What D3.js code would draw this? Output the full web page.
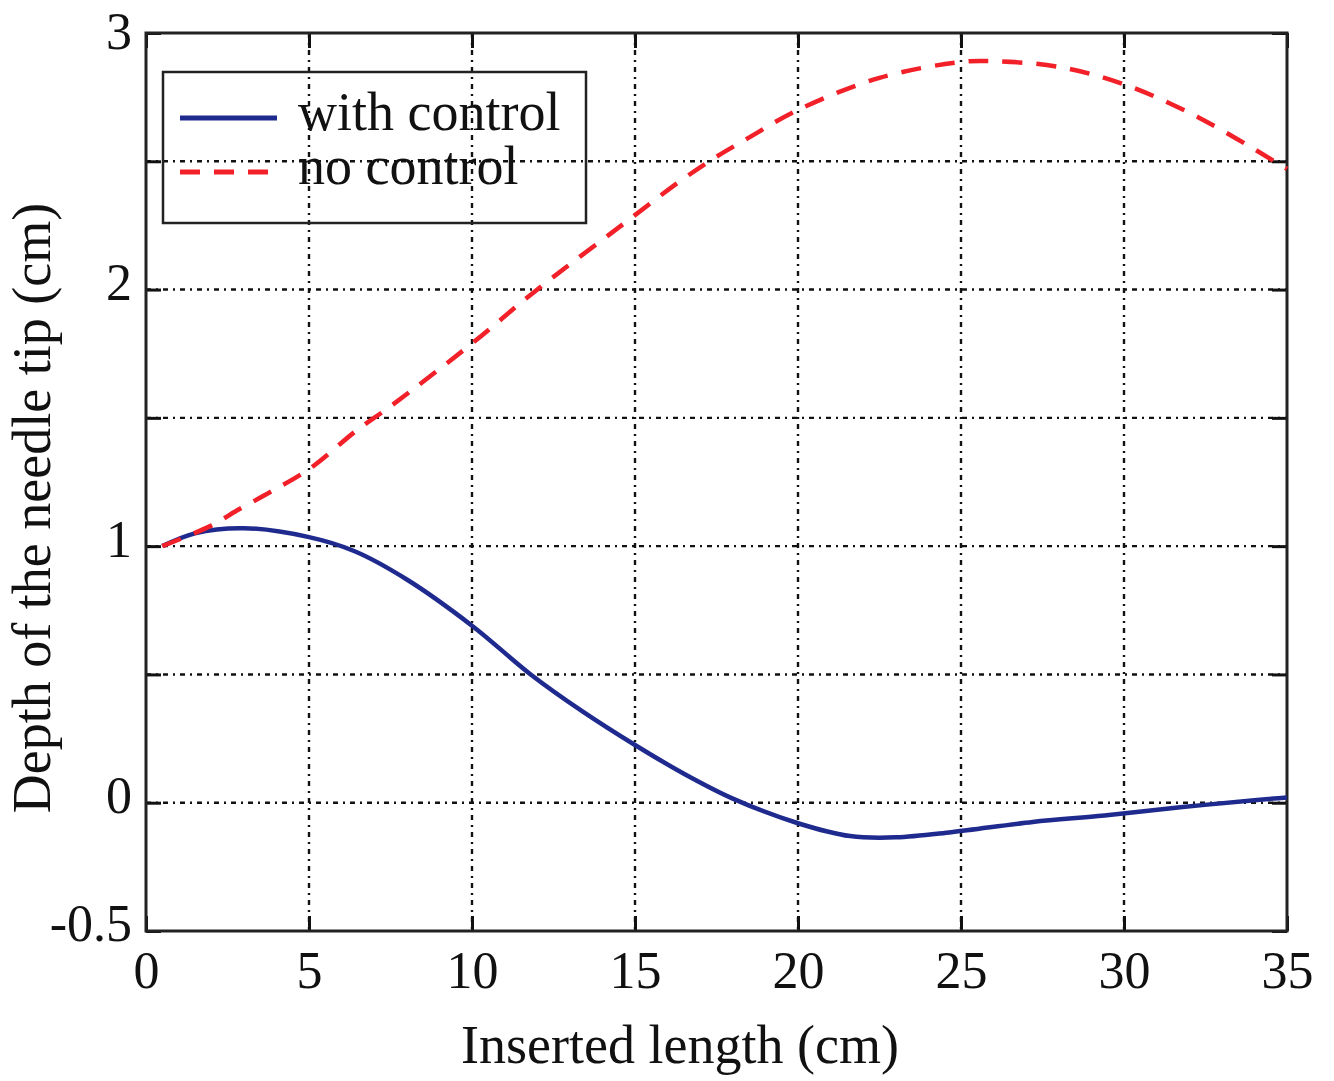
<!DOCTYPE html>
<html>
<head>
<meta charset="utf-8">
<title>Depth of the needle tip</title>
<script src="https://cdn.jsdelivr.net/npm/d3@7"></script>
<style>
  html, body { margin: 0; padding: 0; background: #fff; }
  svg { display: block; }
  text { font-family: "Liberation Serif", "Times New Roman", serif; fill: #111; }
</style>
</head>
<body>
<svg id="chart" width="1334" height="1081"></svg>
<script>
// values
var xWith = [0.5, 1.5, 3, 5, 6.4, 8, 10, 11.8, 13.4, 15, 16.5, 18, 20, 21.6, 23, 24.7, 27.2, 29.4, 31.8, 34, 35];
var yWith = [1.0, 1.05, 1.07, 1.035, 0.98, 0.87, 0.69, 0.50, 0.355, 0.225, 0.113, 0.016, -0.08, -0.13, -0.135, -0.115, -0.075, -0.05, -0.017, 0.01, 0.02];

var xNo = [0.5, 2, 2.8, 3.8, 5, 6.5, 7.5, 10, 11.9, 15, 16.3, 17.4, 18.4, 20, 22.5, 25, 26, 28, 30, 32.3, 35];
var yNo = [1.0, 1.08, 1.14, 1.21, 1.30, 1.455, 1.545, 1.79, 1.99, 2.29, 2.415, 2.51, 2.585, 2.70, 2.825, 2.887, 2.89, 2.868, 2.80, 2.67, 2.47];

var xTicks = [0, 5, 10, 15, 20, 25, 30, 35];
var yTicks = [-0.5, 0, 0.5, 1, 1.5, 2, 2.5, 3];
var yLabelled = [-0.5, 0, 1, 2, 3];

var seriesNames = ["with control", "no control"];

// ----------
var svg = d3.select("#chart");
var m = { left: 146, top: 33, right: 1287, bottom: 931 };

var x = d3.scaleLinear().domain([0, 35]).range([m.left, m.right]);
var y = d3.scaleLinear().domain([-0.5, 3]).range([m.bottom, m.top]);

// grid
var grid = svg.append("g")
    .attr("stroke", "#111")
    .attr("stroke-width", 2.4)
    .attr("stroke-dasharray", "5,5,2,5");

grid.selectAll("line.gx")
    .data(xTicks.slice(1, -1))
    .enter().append("line")
    .attr("x1", d => x(d)).attr("x2", d => x(d))
    .attr("y1", m.top).attr("y2", m.bottom);

grid.selectAll("line.gy")
    .data(yTicks.slice(1, -1))
    .enter().append("line")
    .attr("y1", d => y(d)).attr("y2", d => y(d))
    .attr("x1", m.left).attr("x2", m.right);

// axes with inward ticks
function styleAxis(g) {
    g.select(".domain").remove();
    g.selectAll(".tick line").attr("stroke", "#111").attr("stroke-width", 3);
    g.selectAll(".tick text")
        .style("font-family", '"Liberation Serif", "Times New Roman", serif')
        .style("font-size", "52px")
        .attr("fill", "#111");
}

svg.append("g")
    .attr("transform", "translate(0," + m.bottom + ")")
    .call(d3.axisBottom(x).tickValues(xTicks).tickSizeInner(-15).tickSizeOuter(0).tickPadding(20))
    .call(styleAxis);

svg.append("g")
    .attr("transform", "translate(0," + m.top + ")")
    .call(d3.axisTop(x).tickValues(xTicks).tickSizeInner(-15).tickSizeOuter(0).tickFormat(""))
    .call(styleAxis);

svg.append("g")
    .attr("transform", "translate(" + m.left + ",0)")
    .call(d3.axisLeft(y).tickValues(yTicks).tickSizeInner(-15).tickSizeOuter(0).tickPadding(14)
        .tickFormat(d => yLabelled.indexOf(d) >= 0 ? String(d) : ""))
    .call(styleAxis)
    .call(g => g.selectAll(".tick text").attr("dy", d => d === 3 ? "0.3em" : "0.19em"));

svg.append("g")
    .attr("transform", "translate(" + m.right + ",0)")
    .call(d3.axisRight(y).tickValues(yTicks).tickSizeInner(-15).tickSizeOuter(0).tickFormat(""))
    .call(styleAxis);

// frame
svg.append("rect")
    .attr("x", m.left).attr("y", m.top)
    .attr("width", m.right - m.left).attr("height", m.bottom - m.top)
    .attr("fill", "none").attr("stroke", "#222").attr("stroke-width", 3);

// curves
var line = d3.line()
    .x(d => x(d[0]))
    .y(d => y(d[1]))
    .curve(d3.curveCatmullRom.alpha(0.5));

var withData = d3.zip(xWith, yWith);
var noData = d3.zip(xNo, yNo);

svg.append("path")
    .datum(withData)
    .attr("d", line)
    .attr("fill", "none")
    .attr("stroke", "#1f2a8e")
    .attr("stroke-width", 4.5);

svg.append("path")
    .datum(noData)
    .attr("d", line)
    .attr("fill", "none")
    .attr("stroke", "#f22028")
    .attr("stroke-width", 4.5)
    .attr("stroke-dasharray", "20,14");

// legend (transparent box, the grid shows through as in the original)
var legend = svg.append("g");
legend.append("rect")
    .attr("x", 163).attr("y", 72).attr("width", 423).attr("height", 151)
    .attr("fill", "none").attr("stroke", "#222").attr("stroke-width", 2.5);

legend.append("line")
    .attr("x1", 180).attr("x2", 277).attr("y1", 118).attr("y2", 118)
    .attr("stroke", "#1f2a8e").attr("stroke-width", 5);
legend.append("line")
    .attr("x1", 180).attr("x2", 277).attr("y1", 172).attr("y2", 172)
    .attr("stroke", "#f22028").attr("stroke-width", 5)
    .attr("stroke-dasharray", "20,14");

legend.append("text")
    .style("font-size", "54px")
    .selectAll("tspan")
    .data(seriesNames)
    .enter().append("tspan")
    .attr("x", 298)
    .attr("y", (d, i) => 130 + i * 54)
    .text(d => d);

// axis titles
svg.append("text")
    .attr("x", 680).attr("y", 1063)
    .attr("text-anchor", "middle")
    .style("font-size", "54px")
    .text("Inserted length (cm)");

svg.append("text")
    .attr("transform", "translate(50,508) rotate(-90)")
    .attr("text-anchor", "middle")
    .style("font-size", "54px")
    .text("Depth of the needle tip (cm)");
</script>
</body>
</html>
